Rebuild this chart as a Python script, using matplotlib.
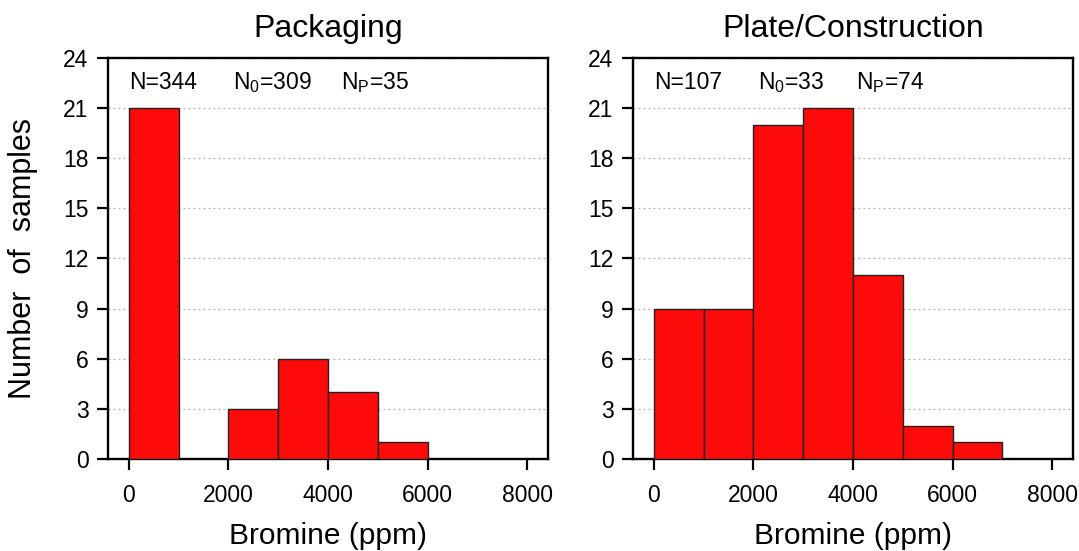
import matplotlib
matplotlib.use("Agg")
import matplotlib.pyplot as plt
import numpy as np

# histogram bins (ppm) and counts
bin_edges = [0, 1000, 2000, 3000, 4000, 5000, 6000, 7000]
packaging_counts = [21, 0, 3, 6, 4, 1, 0]
plate_counts = [9, 9, 20, 21, 11, 2, 1]

titles = ["Packaging", "Plate/Construction"]
n_labels = [
    ["N=344", r"N$_\mathregular{0}$=309", r"N$_\mathregular{P}$=35"],
    ["N=107", r"N$_\mathregular{0}$=33", r"N$_\mathregular{P}$=74"],
]
n_label_x = [[0, 2100, 4270], [0, 2100, 4070]]

plt.rcParams["font.family"] = ["Liberation Sans", "DejaVu Sans"]
plt.rcParams["mathtext.fontset"] = "custom"
plt.rcParams["mathtext.rm"] = "Liberation Sans"

fig = plt.figure(figsize=(10.79, 5.51), dpi=100)
ax_left = fig.add_axes([0.1001, 0.167, 0.4078, 0.728])
ax_right = fig.add_axes([0.5866, 0.167, 0.4078, 0.728])

edges = np.array(bin_edges)
widths = np.diff(edges)

for ax, counts, title, labels, lx in zip(
    [ax_left, ax_right], [packaging_counts, plate_counts], titles, n_labels, n_label_x
):
    ax.bar(edges[:-1], counts, width=widths, align="edge",
           color="#fd0a0a", edgecolor="#222222", linewidth=1.0, zorder=3)
    ax.set_xlim(-420, 8420)
    ax.set_ylim(0, 24)
    ax.set_xticks([0, 2000, 4000, 6000, 8000])
    ax.set_yticks(np.arange(0, 25, 3))
    ax.yaxis.grid(True, linestyle=(0, (1.5, 2.5)), color="#b0b0b0", linewidth=0.9, zorder=0)
    ax.tick_params(direction="out", length=8, width=1.6, labelsize=16.5, pad=6)
    ax.tick_params(axis="x", pad=10)
    for sp in ax.spines.values():
        sp.set_linewidth(1.7)
    ax.set_title(title, fontsize=23, pad=15)
    ax.set_xlabel("Bromine (ppm)", fontsize=21.5, labelpad=11)
    for txt, x in zip(labels, lx):
        ax.text(x, 22.55, txt, fontsize=16.5, va="center", ha="left")

ax_left.set_ylabel("Number  of  samples", fontsize=22, labelpad=18)

fig.savefig("out.png", dpi=100)
